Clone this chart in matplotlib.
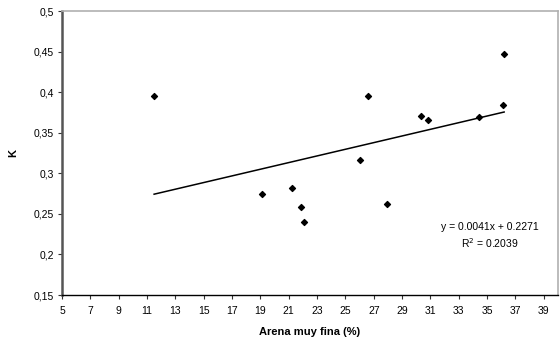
import numpy as np
import matplotlib.pyplot as plt

plt.rcParams['font.family'] = ['Liberation Sans', 'DejaVu Sans']

# arena muy fina (%) vs K
arena = [11.5, 26.6, 30.3, 30.8, 34.4, 36.1, 36.2, 26.0, 19.1, 21.2, 21.9, 22.1, 27.9]
k = [0.395, 0.395, 0.371, 0.366, 0.369, 0.384, 0.447, 0.317, 0.275, 0.282, 0.259, 0.240, 0.262]

slope = 0.0041
intercept = 0.2271

xticks = np.arange(5, 40, 2)
yticks = [0.15, 0.2, 0.25, 0.3, 0.35, 0.4, 0.45, 0.5]
ylabels = ['0,15', '0,2', '0,25', '0,3', '0,35', '0,4', '0,45', '0,5']

fig = plt.figure(figsize=(5.6, 3.44), dpi=100)
ax = fig.add_axes([0.1107, 0.1424, 0.8857, 0.8256])

ax.scatter(arena, k, marker='D', s=9, color='black', zorder=3)

xs = np.array([min(arena), max(arena)])
ax.plot(xs, slope * xs + intercept, color='black', lw=1.1)

ax.set_xlim(5, 40)
ax.set_ylim(0.15, 0.5)
ax.set_xticks(xticks)
ax.set_yticks(yticks)
ax.set_yticklabels(ylabels)
ax.tick_params(labelsize=7.5, length=3, width=0.8, color='#333333', pad=3)
ax.tick_params(axis='x', pad=5)

ax.spines['left'].set_color('#555555')
ax.spines['left'].set_linewidth(1.8)
ax.spines['bottom'].set_color('black')
ax.spines['bottom'].set_linewidth(1.0)
ax.spines['top'].set_color('#b0b0b0')
ax.spines['right'].set_color('#b0b0b0')
ax.spines['top'].set_linewidth(1.2)
ax.spines['right'].set_linewidth(1.2)

ax.set_xlabel('Arena muy fina (%)', fontsize=8, fontweight='bold', labelpad=8)
ax.set_ylabel('K', fontsize=8, fontweight='bold')
ax.yaxis.set_label_coords(-0.089, 0.5)

ax.text(35.2, 0.2338, 'y = 0.0041x + 0.2271', fontsize=7.5, ha='center', va='center')
ax.text(35.2, 0.2134, 'R$^2$ = 0.2039', fontsize=7.5, ha='center', va='center')

fig.savefig('out.png', dpi=100)
